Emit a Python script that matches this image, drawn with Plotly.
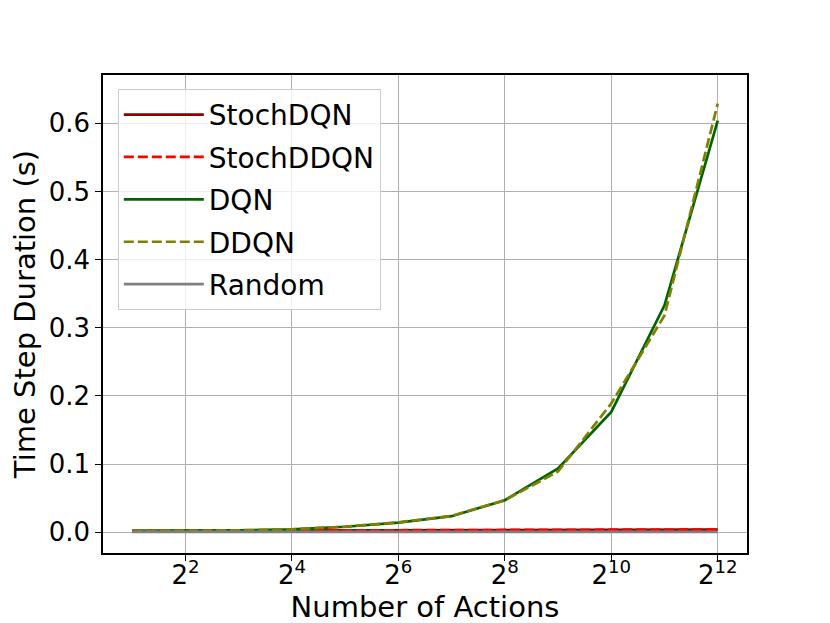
import numpy as np
import plotly.graph_objects as go

# number of actions 2^1 .. 2^12
actions = [2, 4, 8, 16, 32, 64, 128, 256, 512, 1024, 2048, 4096]

stoch_dqn = [0.0018, 0.0019, 0.0021, 0.0024, 0.0026, 0.0028, 0.0030, 0.0031, 0.0032, 0.0033, 0.0035, 0.0037]
stoch_ddqn = [0.0019, 0.0020, 0.0022, 0.0025, 0.0027, 0.0029, 0.0031, 0.0032, 0.0034, 0.0036, 0.0039, 0.0042]
dqn = [0.0020, 0.0022, 0.0028, 0.0042, 0.0080, 0.0140, 0.0235, 0.0470, 0.0935, 0.1765, 0.3330, 0.6040]
ddqn = [0.0020, 0.0022, 0.0028, 0.0043, 0.0082, 0.0145, 0.0240, 0.0470, 0.0890, 0.1890, 0.3180, 0.6290]
rand = [0.0005, 0.0005, 0.0005, 0.0005, 0.0005, 0.0005, 0.0005, 0.0005, 0.0005, 0.0005, 0.0005, 0.0005]

tick_vals = [4, 16, 64, 256, 1024, 4096]
tick_text = ["2<sup>2</sup>", "2<sup>4</sup>", "2<sup>6</sup>", "2<sup>8</sup>", "2<sup>10</sup>", "2<sup>12</sup>"]

series = [
    ("StochDQN", stoch_dqn, "#8b0000", "solid"),
    ("StochDDQN", stoch_ddqn, "#ff0000", "10px,4px"),
    ("DQN", dqn, "#006400", "solid"),
    ("DDQN", ddqn, "#808000", "10px,4px"),
    ("Random", rand, "#808080", "solid"),
]

fig = go.Figure()
for name, vals, col, dash in series:
    fig.add_trace(go.Scatter(x=actions, y=vals, mode='lines', name=name, legendgroup=name,
                             line=dict(color=col, width=2.7, dash=dash)))

font = "DejaVu Sans, sans-serif"
fig.update_xaxes(type='log', range=[np.log10(2 ** 0.45), np.log10(2 ** 12.55)],
                 tickvals=tick_vals, ticktext=tick_text, automargin=False,
                 ticklabelstandoff=-8,
                 title=dict(text="Number of Actions", font=dict(size=29, color='black'), standoff=8),
                 tickfont=dict(size=26, color='black'),
                 showgrid=True, gridcolor='#b0b0b0', gridwidth=1.4,
                 showline=True, linecolor='black', linewidth=1.5, mirror=True,
                 ticks='outside', ticklen=6, tickcolor='black', zeroline=False)
fig.update_yaxes(range=[-0.0305, 0.671], automargin=False,
                 tickvals=[0.0, 0.1, 0.2, 0.3, 0.4, 0.5, 0.6],
                 ticktext=["0.0", "0.1", "0.2", "0.3", "0.4", "0.5", "0.6"],
                 title=dict(text="Time Step Duration (s)", font=dict(size=29, color='black'), standoff=6),
                 tickfont=dict(size=26, color='black'),
                 showgrid=True, gridcolor='#b0b0b0', gridwidth=1.4,
                 showline=True, linecolor='black', linewidth=1.5, mirror=True,
                 ticks='outside', ticklen=6, tickcolor='black', zeroline=False)

# page adds an 8px body margin, so margins are shifted to keep the plot box in place
fig.update_layout(width=830, height=623,
                  margin=dict(l=95, r=91, t=67, b=78),
                  paper_bgcolor='white', plot_bgcolor='white',
                  font=dict(family=font, color='black'),
                  legend=dict(x=0.023, y=0.971, xanchor='left', yanchor='top',
                              bgcolor='rgba(255,255,255,0.8)', bordercolor='#cccccc', borderwidth=1,
                              font=dict(size=28, color='black'), tracegroupgap=3, itemwidth=80),
                  showlegend=True)

fig.write_html("out.html")
